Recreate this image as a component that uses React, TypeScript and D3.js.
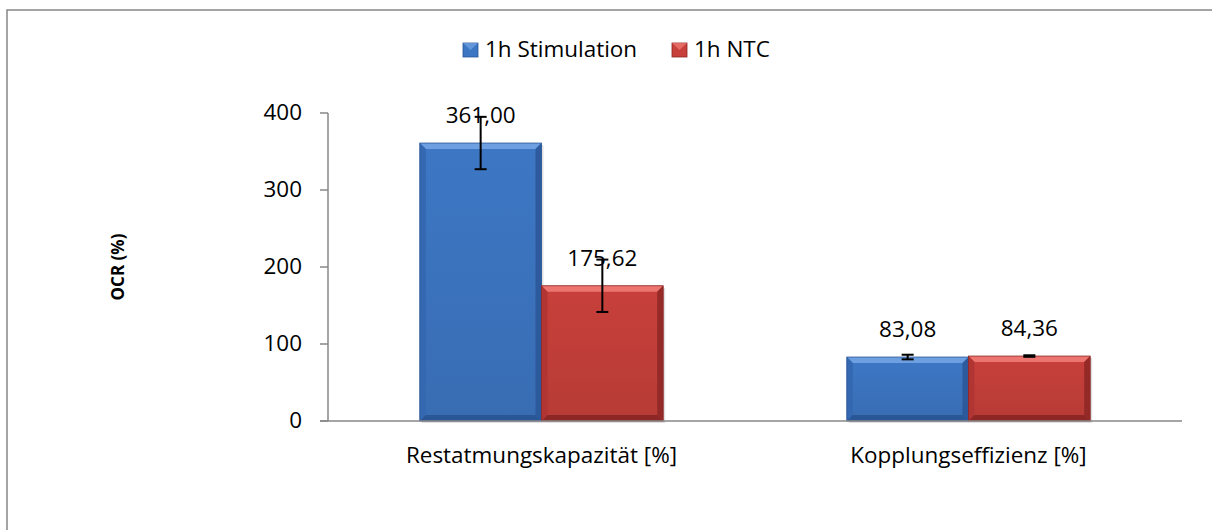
import React from "react";
import * as d3 from "d3";

const categories = ["Restatmungskapazität [%]", "Kopplungseffizienz [%]"];
const seriesNames = ["1h Stimulation", "1h NTC"];
const stimValues = [361.0, 83.08];
const ntcValues = [175.62, 84.36];
const stimErrors = [34, 3];
const ntcErrors = [34, 1];
const yTicks = [0, 100, 200, 300, 400];
const labelFmt = (v: number) => v.toFixed(2).replace(".", ",");

const W = 1212;
const H = 530;
const FONT = "'Open Sans', sans-serif";
const FS = 21;
const SX = 1.07;

const palette = [
  { base: "#3d77c4", light: "#6e9fe0", dark: "#2a5696", side: "#3468b0" },
  { base: "#c8403b", light: "#ec7570", dark: "#8c2725", side: "#b13532" },
];

function T({ x, y, anchor = "start", children }: { x: number; y: number; anchor?: string; children: React.ReactNode }) {
  return (
    <text transform={`translate(${x},${y}) scale(${SX},1)`} dy="0.35em" textAnchor={anchor} fontSize={FS} fill="#000">
      {children}
    </text>
  );
}

export default function App() {
  const margin = { left: 328, right: 1182, top: 113, bottom: 421 };
  const x0 = d3.scaleBand<string>().domain(categories).range([margin.left, margin.right]).paddingInner(0.43).paddingOuter(0.215);
  const x1 = d3.scaleBand<string>().domain(seriesNames).range([0, x0.bandwidth()]);
  const y = d3.scaleLinear().domain([0, 400]).range([margin.bottom, margin.top]);

  const series = [
    { name: seriesNames[0], values: stimValues, errors: stimErrors },
    { name: seriesNames[1], values: ntcValues, errors: ntcErrors },
  ];

  const bev = 6;

  return (
    <svg width={W} height={H} style={{ position: "absolute", left: 0, top: 0 }} fontFamily={FONT}>
      <defs>
        {palette.map((p, i) => (
          <linearGradient key={i} id={`g${i}`} x1="0" y1="0" x2="0" y2="1">
            <stop offset="0" stopColor={p.base} />
            <stop offset="1" stopColor={d3.color(p.base)!.darker(0.25).toString()} />
          </linearGradient>
        ))}
      </defs>
      <rect x={0} y={0} width={W} height={H} fill="#fff" />
      <rect x={7} y={10} width={W + 20} height={H + 20} fill="none" stroke="#868686" strokeWidth={1.5} />

      {/* legend */}
      {series.map((s, i) => {
        const lx = i === 0 ? 463 : 672;
        const p = palette[i];
        return (
          <g key={s.name}>
            <rect x={lx} y={43} width={15} height={14} fill={p.base} stroke={p.dark} strokeWidth={0.8} />
            <polygon points={`${lx},43 ${lx + 15},43 ${lx + 7.5},50`} fill={p.light} opacity={0.8} />
            <T x={lx + 22} y={50}>{s.name}</T>
          </g>
        );
      })}

      {/* y axis */}
      <line x1={margin.left} x2={margin.left} y1={y(400)} y2={y(0)} stroke="#878787" strokeWidth={1.5} />
      {yTicks.map((t) => (
        <g key={t}>
          <line x1={margin.left - 8} x2={margin.left} y1={y(t)} y2={y(t)} stroke="#878787" strokeWidth={1.5} />
          <T x={302} y={y(t)} anchor="end">{t}</T>
        </g>
      ))}
      <text transform={`translate(118,${(y(0) + y(400)) / 2}) rotate(-90)`} dy="0.35em" textAnchor="middle" fontSize={17} fontWeight="bold" fill="#000">OCR (%)</text>

      {/* bars */}
      {categories.map((c, ci) => (
        <g key={c}>
          {series.map((s, si) => {
            const p = palette[si];
            const bx = x0(c)! + x1(s.name)!;
            const bw = x1.bandwidth();
            const by = y(s.values[ci]);
            const bh = y(0) - by;
            const r = bx + bw;
            const b = y(0);
            return (
              <g key={s.name}>
                <rect x={bx + 2} y={by + 2} width={bw} height={bh} fill="#000" opacity={0.12} />
                <rect x={bx} y={by} width={bw} height={bh} fill={`url(#g${si})`} />
                <polygon points={`${bx},${by} ${r},${by} ${r - bev},${by + bev} ${bx + bev},${by + bev}`} fill={p.light} />
                <polygon points={`${bx},${by} ${bx + bev},${by + bev} ${bx + bev},${b - bev} ${bx},${b}`} fill={p.side} />
                <polygon points={`${r},${by} ${r - bev},${by + bev} ${r - bev},${b - bev} ${r},${b}`} fill={p.dark} opacity={0.85} />
                <polygon points={`${bx},${b} ${bx + bev},${b - bev} ${r - bev},${b - bev} ${r},${b}`} fill={p.dark} />
                <rect x={bx} y={by} width={bw} height={bh} fill="none" stroke={p.dark} strokeWidth={0.8} />
                <T x={bx + bw / 2} y={by - 27} anchor="middle">{labelFmt(s.values[ci])}</T>
              </g>
            );
          })}
        </g>
      ))}

      {/* error bars */}
      {categories.map((c, ci) => (
        <g key={c + "e"}>
          {series.map((s, si) => {
            const cx = x0(c)! + x1(s.name)! + x1.bandwidth() / 2;
            const v = s.values[ci];
            const e = s.errors[ci];
            return (
              <g key={s.name} stroke="#000" strokeWidth={2}>
                <line x1={cx} x2={cx} y1={y(v + e)} y2={y(v - e)} />
                <line x1={cx - 6} x2={cx + 6} y1={y(v + e)} y2={y(v + e)} />
                <line x1={cx - 6} x2={cx + 6} y1={y(v - e)} y2={y(v - e)} />
              </g>
            );
          })}
        </g>
      ))}

      {/* x axis */}
      <line x1={margin.left - 8} x2={margin.right} y1={y(0)} y2={y(0)} stroke="#878787" strokeWidth={1.5} />
      {categories.map((c) => (
        <T key={c} x={x0(c)! + x0.bandwidth() / 2} y={456} anchor="middle">{c}</T>
      ))}
    </svg>
  );
}
